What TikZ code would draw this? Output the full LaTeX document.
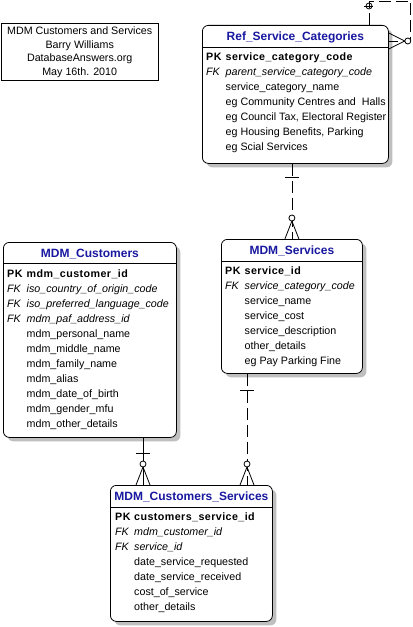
\documentclass[tikz,border=0pt]{standalone}
\usepackage{fontspec}
\setmainfont{Liberation Sans}
\newfontfamily\pkfont{Liberation Sans}[LetterSpace=4.0]
\usetikzlibrary{calc,shadows}
\definecolor{erblue}{RGB}{24,24,160}

\begin{document}
\begin{tikzpicture}[x=1bp, y=-1bp,
		entity/.style={draw, rounded corners=6bp, fill=white, line width=0.8bp, anchor=north west, inner sep=0pt,
			drop shadow={shadow xshift=4bp, shadow yshift=-4bp, fill=black!25, opacity=1}},
		etitle/.style={anchor=base, text=erblue, inner sep=0pt, font=\fontsize{12bp}{14bp}\selectfont\bfseries},
		ebody/.style={anchor=base west, inner sep=0pt, font=\fontsize{10.7bp}{15bp}\selectfont},
		rel/.style={line width=0.8bp},
		reldash/.style={rel, dash pattern=on 12bp off 5bp}]
		\useasboundingbox (0,0) rectangle (412,627);
		% title block
		\node[draw, line width=1.2bp, anchor=north west, minimum width=157bp, minimum height=57bp, align=center, inner sep=0pt,
			font=\fontsize{10.7bp}{13.7bp}\selectfont] (TITLE) at (0.6,23) {
			MDM Customers and Services\\Barry Williams\\DatabaseAnswers.org\\May 16th. 2010
		};
		% Ref_Service_Categories
		\node[entity, minimum width=186bp, minimum height=138bp] (REF_CAT) at (202,25) {};
		\node[etitle] (REF_CAT_T) at ($(REF_CAT.north)+(0,15.5)$) {Ref\_Service\_Categories};
		\draw[rel] ($(REF_CAT.north west)+(0,22)$) -- ($(REF_CAT.north east)+(0,22)$);
		\node[ebody] (REF_CAT_B) at ($(REF_CAT.north west)+(4,36)$) {\begin{tabular}[t]{@{}p{15bp}@{\hspace{4.5bp}}l@{}}
			{\pkfont\bfseries PK} & {\pkfont\bfseries service\_category\_code}\\
			\textit{FK} & \textit{parent\_service\_category\_code}\\
			& service\_category\_name\\
			& eg Community Centres and\ \ Halls\\
			& eg Council Tax, Electoral Register\\
			& eg Housing Benefits, Parking\\
			& eg Scial Services
		\end{tabular}};
		% MDM_Customers
		\node[entity, minimum width=173bp, minimum height=195bp] (MDM_CUST) at (3,242) {};
		\node[etitle] (MDM_CUST_T) at ($(MDM_CUST.north)+(0,15.5)$) {MDM\_Customers};
		\draw[rel] ($(MDM_CUST.north west)+(0,21)$) -- ($(MDM_CUST.north east)+(0,21)$);
		\node[ebody] (MDM_CUST_B) at ($(MDM_CUST.north west)+(4,35.5)$) {\begin{tabular}[t]{@{}p{15bp}@{\hspace{4.5bp}}l@{}}
			{\pkfont\bfseries PK} & {\pkfont\bfseries mdm\_customer\_id}\\
			\textit{FK} & \textit{iso\_country\_of\_origin\_code}\\
			\textit{FK} & \textit{iso\_preferred\_language\_code}\\
			\textit{FK} & \textit{mdm\_paf\_address\_id}\\
			& mdm\_personal\_name\\
			& mdm\_middle\_name\\
			& mdm\_family\_name\\
			& mdm\_alias\\
			& mdm\_date\_of\_birth\\
			& mdm\_gender\_mfu\\
			& mdm\_other\_details
		\end{tabular}};
		% MDM_Services
		\node[entity, minimum width=141bp, minimum height=134bp] (MDM_SERV) at (221,239) {};
		\node[etitle] (MDM_SERV_T) at ($(MDM_SERV.north)+(0,15)$) {MDM\_Services};
		\draw[rel] ($(MDM_SERV.north west)+(0,22.5)$) -- ($(MDM_SERV.north east)+(0,22.5)$);
		\node[ebody] (MDM_SERV_B) at ($(MDM_SERV.north west)+(4,35.5)$) {\begin{tabular}[t]{@{}p{15bp}@{\hspace{4.5bp}}l@{}}
			{\pkfont\bfseries PK} & {\pkfont\bfseries service\_id}\\
			\textit{FK} & \textit{service\_category\_code}\\
			& service\_name\\
			& service\_cost\\
			& service\_description\\
			& other\_details\\
			& eg Pay Parking Fine
		\end{tabular}};
		% MDM_Customers_Services
		\node[entity, minimum width=162bp, minimum height=136bp] (MDM_CUST_SERV) at (110,485) {};
		\node[etitle] (MDM_CUST_SERV_T) at ($(MDM_CUST_SERV.north)+(0,15.5)$) {MDM\_Customers\_Services};
		\draw[rel] ($(MDM_CUST_SERV.north west)+(0,22)$) -- ($(MDM_CUST_SERV.north east)+(0,22)$);
		\node[ebody] (MDM_CUST_SERV_B) at ($(MDM_CUST_SERV.north west)+(5,35.5)$) {\begin{tabular}[t]{@{}p{15bp}@{\hspace{4bp}}l@{}}
			{\pkfont\bfseries PK} & {\pkfont\bfseries customers\_service\_id}\\
			\textit{FK} & \textit{mdm\_customer\_id}\\
			\textit{FK} & \textit{service\_id}\\
			& date\_service\_requested\\
			& date\_service\_received\\
			& cost\_of\_service\\
			& other\_details
		\end{tabular}};
		% relationship ends
		\coordinate (SERV_TOP) at (MDM_SERV.north);
		\coordinate (REF_BOT) at (SERV_TOP |- REF_CAT.south);
		\coordinate (CS_TOP_L) at ($(MDM_CUST_SERV.north west)+(33,0)$);
		\coordinate (CUST_BOT) at (CS_TOP_L |- MDM_CUST.south);
		\coordinate (CS_TOP_R) at ($(MDM_CUST_SERV.north west)+(137,0)$);
		\coordinate (SERV_BOT) at (CS_TOP_R |- MDM_SERV.south);
		\coordinate (LOOP_OUT) at ($(REF_CAT.north west)+(167,0)$);
		\coordinate (LOOP_IN) at ($(REF_CAT.north east)+(0,16)$);
		% relationships
		\draw[reldash] (REF_BOT) -- (SERV_TOP);
		\draw[rel] (CUST_BOT) -- (CS_TOP_L);
		\draw[reldash] (SERV_BOT) -- (CS_TOP_R);
		\draw[reldash] (LOOP_OUT) -- ++(0,-24) -| ($(LOOP_IN)+(22,0)$) -- (LOOP_IN);
		% one ends
		\draw[rel] ($(REF_BOT)+(-7,14)$) -- ($(REF_BOT)+(7,14)$);
		\draw[rel] ($(CUST_BOT)+(-7,16)$) -- ($(CUST_BOT)+(7,16)$);
		\draw[rel] ($(SERV_BOT)+(-7,17)$) -- ($(SERV_BOT)+(7,17)$);
		\draw[rel] ($(LOOP_OUT)+(-5,-19)$) -- ($(LOOP_OUT)+(4,-19)$);
		\draw[rel] ($(LOOP_OUT)+(0,-19)$) circle[radius=3bp];
		% many ends
		\foreach \e in {SERV_TOP,CS_TOP_L,CS_TOP_R} {
			\draw[rel] ($(\e)+(-7,0)$) -- ($(\e)+(0,-18)$) -- ($(\e)+(7,0)$);
			\draw[rel, fill=white] ($(\e)+(0,-21)$) circle[radius=3bp];
		}
		\draw[rel] ($(LOOP_IN)+(0,-8)$) -- ($(LOOP_IN)+(16,0)$) -- ($(LOOP_IN)+(0,8)$);
		\draw[rel, fill=white] ($(LOOP_IN)+(19,0)$) circle[radius=3bp];
\end{tikzpicture}
\end{document}
